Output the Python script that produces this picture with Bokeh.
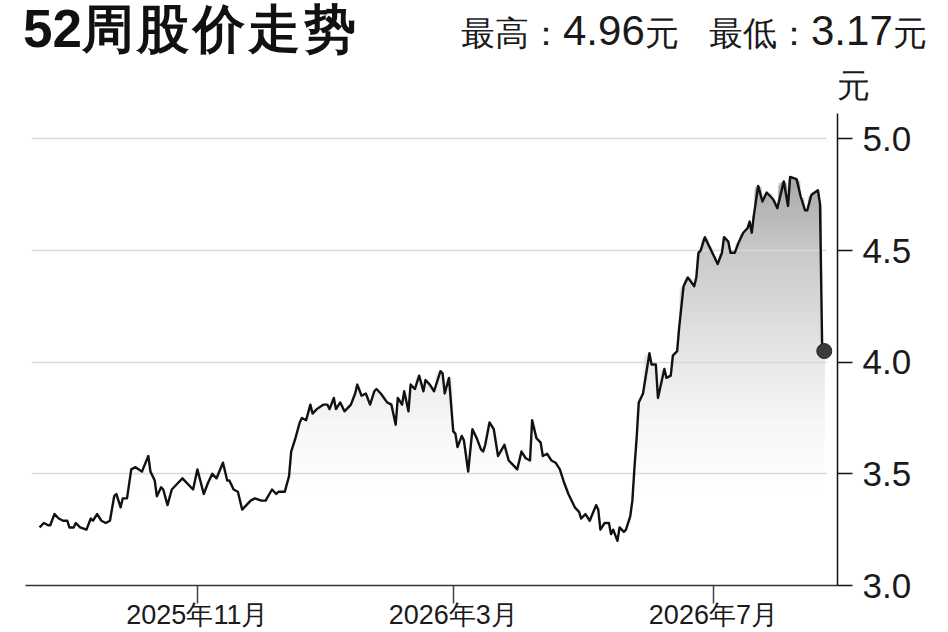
import numpy as np
import pandas as pd
from bokeh.plotting import figure
from bokeh.layouts import column
from bokeh.models import Range1d, FixedTicker, NumeralTickFormatter, Div
from bokeh.embed import file_html
from bokeh.resources import INLINE

dates = [
    "2025-08-19", "2025-08-21", "2025-08-23", "2025-08-24", "2025-08-26", "2025-08-28", "2025-08-30", "2025-09-01", "2025-09-02", "2025-09-04",
    "2025-09-05", "2025-09-07", "2025-09-10", "2025-09-12", "2025-09-13", "2025-09-15", "2025-09-17", "2025-09-19", "2025-09-21", "2025-09-23",
    "2025-09-24", "2025-09-26", "2025-09-27", "2025-09-29", "2025-10-01", "2025-10-03", "2025-10-06", "2025-10-09", "2025-10-10", "2025-10-12",
    "2025-10-13", "2025-10-15", "2025-10-16", "2025-10-18", "2025-10-20", "2025-10-23", "2025-10-25", "2025-10-26", "2025-10-30", "2025-11-01",
    "2025-11-04", "2025-11-06", "2025-11-08", "2025-11-10", "2025-11-13", "2025-11-15", "2025-11-16", "2025-11-18", "2025-11-20", "2025-11-22",
    "2025-11-24", "2025-11-26", "2025-11-28", "2025-12-01", "2025-12-03", "2025-12-06", "2025-12-08", "2025-12-09", "2025-12-12", "2025-12-14",
    "2025-12-15", "2025-12-17", "2025-12-19", "2025-12-20", "2025-12-22", "2025-12-24", "2025-12-25", "2025-12-27", "2025-12-30", "2026-01-01",
    "2026-01-02", "2026-01-04", "2026-01-05", "2026-01-07", "2026-01-09", "2026-01-12", "2026-01-14", "2026-01-15", "2026-01-17", "2026-01-19",
    "2026-01-21", "2026-01-23", "2026-01-24", "2026-01-26", "2026-01-29", "2026-01-31", "2026-02-02", "2026-02-03", "2026-02-05", "2026-02-06",
    "2026-02-08", "2026-02-09", "2026-02-11", "2026-02-13", "2026-02-15", "2026-02-16", "2026-02-18", "2026-02-20", "2026-02-23", "2026-02-24",
    "2026-02-25", "2026-02-27", "2026-03-01", "2026-03-02", "2026-03-03", "2026-03-05", "2026-03-06", "2026-03-08", "2026-03-10", "2026-03-12",
    "2026-03-14", "2026-03-15", "2026-03-16", "2026-03-18", "2026-03-20", "2026-03-22", "2026-03-25", "2026-03-27", "2026-03-29", "2026-03-31",
    "2026-04-02", "2026-04-04", "2026-04-06", "2026-04-07", "2026-04-09", "2026-04-11", "2026-04-12", "2026-04-14", "2026-04-16", "2026-04-18",
    "2026-04-20", "2026-04-22", "2026-04-24", "2026-04-27", "2026-04-29", "2026-04-30", "2026-05-02", "2026-05-04", "2026-05-07", "2026-05-08",
    "2026-05-09", "2026-05-11", "2026-05-13", "2026-05-14", "2026-05-15", "2026-05-17", "2026-05-18", "2026-05-20", "2026-05-21", "2026-05-23",
    "2026-05-24", "2026-05-25", "2026-05-26", "2026-05-27", "2026-05-29", "2026-06-01", "2026-06-02", "2026-06-04", "2026-06-05", "2026-06-08",
    "2026-06-09", "2026-06-11", "2026-06-12", "2026-06-14", "2026-06-15", "2026-06-17", "2026-06-19", "2026-06-22", "2026-06-23", "2026-06-24",
    "2026-06-25", "2026-06-27", "2026-06-29", "2026-07-01", "2026-07-03", "2026-07-05", "2026-07-06", "2026-07-08", "2026-07-09", "2026-07-11",
    "2026-07-13", "2026-07-15", "2026-07-17", "2026-07-18", "2026-07-19", "2026-07-20", "2026-07-22", "2026-07-24", "2026-07-26", "2026-07-29",
    "2026-07-31", "2026-08-03", "2026-08-05", "2026-08-06", "2026-08-09", "2026-08-11", "2026-08-13", "2026-08-14", "2026-08-16", "2026-08-19",
    "2026-08-20", "2026-08-21", "2026-08-22",
]

prices = [
    3.26, 3.28, 3.27, 3.27, 3.32, 3.30, 3.29, 3.29, 3.26, 3.26,
    3.28, 3.26, 3.25, 3.30, 3.29, 3.32, 3.29, 3.28, 3.29, 3.40,
    3.41, 3.35, 3.39, 3.39, 3.52, 3.53, 3.51, 3.58, 3.51, 3.47,
    3.40, 3.44, 3.43, 3.36, 3.43, 3.46, 3.48, 3.47, 3.43, 3.52,
    3.41, 3.46, 3.50, 3.48, 3.55, 3.47, 3.47, 3.43, 3.42, 3.34,
    3.36, 3.38, 3.39, 3.38, 3.38, 3.43, 3.41, 3.42, 3.42, 3.49,
    3.60, 3.66, 3.73, 3.75, 3.74, 3.81, 3.77, 3.79, 3.81, 3.81,
    3.79, 3.84, 3.79, 3.82, 3.78, 3.81, 3.86, 3.90, 3.85, 3.86,
    3.81, 3.87, 3.88, 3.86, 3.82, 3.81, 3.72, 3.84, 3.81, 3.87,
    3.78, 3.90, 3.88, 3.94, 3.87, 3.92, 3.90, 3.87, 3.96, 3.95,
    3.86, 3.93, 3.69, 3.68, 3.62, 3.67, 3.65, 3.51, 3.70, 3.66,
    3.61, 3.60, 3.63, 3.73, 3.70, 3.58, 3.63, 3.56, 3.54, 3.52,
    3.60, 3.57, 3.56, 3.74, 3.66, 3.64, 3.58, 3.59, 3.56, 3.55,
    3.52, 3.46, 3.41, 3.35, 3.33, 3.30, 3.32, 3.29, 3.36, 3.34,
    3.25, 3.28, 3.28, 3.23, 3.25, 3.20, 3.26, 3.24, 3.25, 3.31,
    3.38, 3.53, 3.66, 3.82, 3.86, 4.04, 3.99, 3.99, 3.84, 3.97,
    3.93, 3.94, 4.03, 4.05, 4.16, 4.34, 4.38, 4.34, 4.38, 4.49,
    4.50, 4.56, 4.52, 4.48, 4.44, 4.49, 4.56, 4.54, 4.49, 4.49,
    4.54, 4.58, 4.60, 4.63, 4.58, 4.66, 4.79, 4.72, 4.76, 4.73,
    4.69, 4.81, 4.70, 4.83, 4.82, 4.74, 4.68, 4.68, 4.75, 4.77,
    4.71, 4.07, 4.05,
]

tick_dates = ["2025-11-01", "2026-03-01", "2026-07-01"]
tick_labels = ["2025年11月", "2026年3月", "2026年7月"]
y_ticks = [3.0, 3.5, 4.0, 4.5, 5.0]
title_text = "52周股价走势"
high_text = "最高：4.96元"
low_text = "最低：3.17元"
unit_text = "元"

LAT = "Liberation Sans"
CJK = "Noto Sans CJK SC"
INK = "#1a1a1a"


# ---------- header (title, high / low, unit) ----------
def runs(s):
    out, cur, kind = [], "", None
    for ch in s:
        k = ord(ch) < 128
        if cur and k != kind:
            out.append((cur, kind))
            cur = ""
        cur += ch
        kind = k
    if cur:
        out.append((cur, kind))
    return out


def svg_text(s, x, y, lat_size, cjk_size, weight="normal", color=INK, cjk_spacing=0):
    parts = []
    for chunk, is_lat in runs(s):
        if is_lat:
            parts.append(f'<tspan font-family="{LAT}" font-size="{lat_size}px">{chunk}</tspan>')
        else:
            parts.append(f'<tspan font-family="{CJK}" font-size="{cjk_size}px" '
                         f'letter-spacing="{cjk_spacing}">{chunk}</tspan>')
    return (f'<text x="{x}" y="{y}" font-weight="{weight}" fill="{color}">'
            + "".join(parts) + "</text>")


header_svg = (
    '<svg xmlns="http://www.w3.org/2000/svg" width="948" height="113" style="display:block">'
    + svg_text(title_text, 23, 47, 53, 52, weight="bold", color="#111111", cjk_spacing=3.5)
    + svg_text(high_text, 461, 45, 42, 34)
    + svg_text(low_text, 709, 45, 42, 34)
    + svg_text(unit_text, 837, 97, 33, 33)
    + "</svg>"
)
header = Div(text=header_svg, width=948, height=113, margin=0)

# ---------- main chart ----------
x = pd.to_datetime(dates)
y = np.array(prices)
ref = pd.Timestamp("2025-11-01")
x_start = ref - pd.Timedelta(days=80.6)
x_end = ref + pd.Timedelta(days=300.2)

p = figure(width=948, height=519, x_axis_type="datetime", y_axis_location="right",
           x_range=Range1d(x_start, x_end), y_range=Range1d(3.0, 5.114),
           output_backend="svg", toolbar_location=None,
           min_border_left=25, min_border_right=111, min_border_top=0, min_border_bottom=47)
p.outline_line_color = None
p.background_fill_color = "white"
p.border_fill_color = "white"

# vertical grey gradient under the line, built from stacked bands
levels = np.round(np.arange(3.35, 4.86, 0.01), 3)
shade_v = [3.40, 3.70, 4.00, 4.50, 4.85]
shade_g = [255, 247, 232, 200, 166]
for L in levels:
    if L > y.max():
        break
    g = int(round(np.interp(L, shade_v, shade_g)))
    p.varea(x=x, y1=np.full(len(y), L), y2=np.maximum(y, L),
            fill_color=(g, g, g), fill_alpha=1.0)

ln = p.line(x, y, line_color="#111111", line_width=2.4, line_join="round")
ln.level = "annotation"
dot = p.scatter(x=[x[-1]], y=[y[-1]], size=15, fill_color="#3b3b3b", line_color="#222222", line_width=1)
dot.level = "annotation"

# grid
p.xgrid.visible = False
p.ygrid.ticker = FixedTicker(ticks=y_ticks)
p.ygrid.grid_line_color = "#d9d9d9"
p.ygrid.grid_line_width = 1.6
p.ygrid.level = "guide"
try:
    p.ygrid.cross_bounds = ((ref - pd.Timedelta(days=77.8)).value / 1e6,
                            (ref + pd.Timedelta(days=295.1)).value / 1e6)
except Exception:
    pass

# right axis
ya = p.yaxis[0]
ya.ticker = FixedTicker(ticks=y_ticks)
ya.formatter = NumeralTickFormatter(format="0.0")
ya.major_tick_out = 15
ya.major_tick_in = 0
ya.minor_tick_out = 0
ya.minor_tick_in = 0
ya.axis_line_color = "#111111"
ya.axis_line_width = 1.5
ya.major_tick_line_color = "#111111"
ya.major_tick_line_width = 1.5
ya.major_label_text_font = LAT
ya.major_label_text_font_size = "35px"
ya.major_label_text_color = INK
ya.major_label_standoff = 10

# bottom axis
tick_ms = [pd.Timestamp(d).value / 1e6 for d in tick_dates]
xa = p.xaxis[0]
xa.ticker = FixedTicker(ticks=tick_ms)
xa.major_label_overrides = {t: s for t, s in zip(tick_ms, tick_labels)}
xa.major_label_text_font = LAT
xa.major_label_text_font_size = "27px"
xa.major_label_text_color = INK
try:
    xa.major_label_standoff = -4
except Exception:
    xa.major_label_standoff = 0
xa.major_tick_out = 18
xa.major_tick_in = 0
xa.minor_tick_out = 0
xa.minor_tick_in = 0
xa.axis_line_color = "#333333"
xa.axis_line_width = 1.3
xa.major_tick_line_color = "#444444"
xa.major_tick_line_width = 1.5

open("out.html", "w").write(file_html(column(header, p, spacing=0), INLINE))
